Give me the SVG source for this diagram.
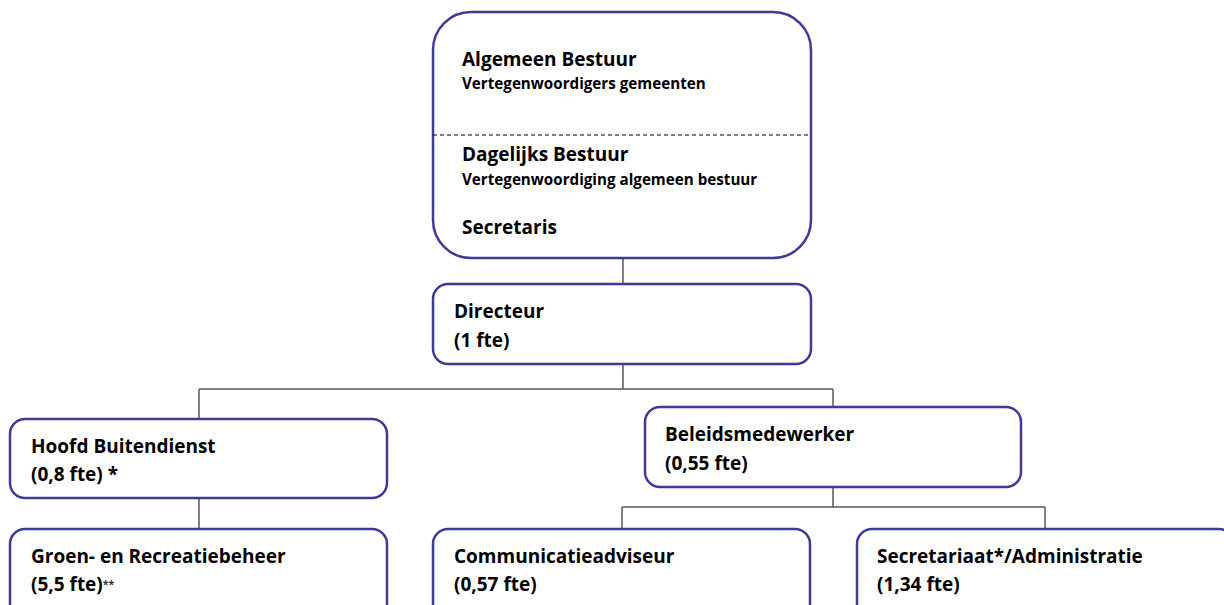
<svg xmlns="http://www.w3.org/2000/svg" width="1224" height="605" viewBox="0 0 1224 605">
<style>
.box{fill:#fff;stroke:#3d3b98;stroke-width:2.5}
.con{fill:none;stroke:#595959;stroke-width:1.5}
text{font-family:"Open Sans",Lato,sans-serif;font-weight:bold;fill:#000}
.t{font-size:19px}
.s{font-size:15.2px}
.xs{font-size:10.5px;fill:#333}
</style>
<rect width="1224" height="605" fill="#fff"/>
<g id="connectors">
<path class="con" d="M623 258V284M623 364V389M199 389H833M199 389V419M833 389V407M199 498V529M833 487V507M622 507H1045M622 507V529M1045 507V529"/>
</g>
<g id="bestuur">
<rect class="box" x="433" y="12" width="378" height="246" rx="38"/>
<line x1="433" y1="135" x2="811" y2="135" stroke="#000" stroke-width="1" stroke-dasharray="4,3"/>
<text class="t" x="462" y="66">Algemeen Bestuur</text>
<text class="s" x="462" y="89">Vertegenwoordigers gemeenten</text>
<text class="t" x="462" y="161">Dagelijks Bestuur</text>
<text class="s" x="462" y="185">Vertegenwoordiging algemeen bestuur</text>
<text class="t" x="462" y="234">Secretaris</text>
</g>
<g id="directeur">
<rect class="box" x="433" y="284" width="378" height="80" rx="15"/>
<text class="t" x="454" y="318">Directeur</text>
<text class="t" x="454" y="347">(1 fte)</text>
</g>
<g id="hoofd">
<rect class="box" x="10" y="419" width="377" height="79" rx="15"/>
<text class="t" x="31" y="453">Hoofd Buitendienst</text>
<text class="t" x="31" y="481">(0,8 fte) *</text>
</g>
<g id="beleid">
<rect class="box" x="645" y="407" width="376" height="80" rx="15"/>
<text class="t" x="665" y="441">Beleidsmedewerker</text>
<text class="t" x="665" y="470">(0,55 fte)</text>
</g>
<g id="groen">
<rect class="box" x="10" y="529" width="377" height="90" rx="15"/>
<text class="t" x="31" y="563">Groen- en Recreatiebeheer</text>
<text class="t" x="31" y="591">(5,5 fte)<tspan class="xs" dy="-3">**</tspan></text>
</g>
<g id="communicatie">
<rect class="box" x="433" y="529" width="377" height="90" rx="15"/>
<text class="t" x="454" y="563">Communicatieadviseur</text>
<text class="t" x="454" y="591">(0,57 fte)</text>
</g>
<g id="secretariaat">
<rect class="box" x="857" y="529" width="377" height="90" rx="15"/>
<text class="t" x="877" y="563">Secretariaat*/Administratie</text>
<text class="t" x="877" y="591">(1,34 fte)</text>
</g>
</svg>
